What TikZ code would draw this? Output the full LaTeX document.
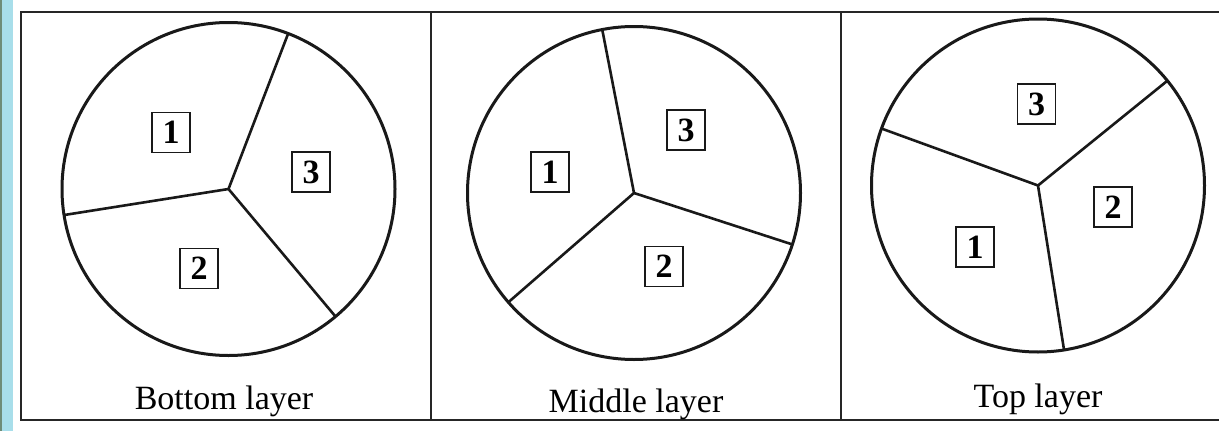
\documentclass[tikz,border=0pt]{standalone}
\usepackage{fontspec}
\setmainfont{Liberation Serif}
\definecolor{stripblue}{RGB}{168,222,234}
\definecolor{stripdark}{RGB}{110,140,120}
\begin{document}
\begin{tikzpicture}[x=1pt,y=-1pt,
  frameline/.style={draw=black!85,line width=2pt},
  ring/.style={circle,draw=black!90,line width=3pt,minimum size=333pt,inner sep=0pt,outer sep=0pt},
  spoke/.style={draw=black!90,line width=2.6pt},
  numbox/.style={draw=black!90,line width=1.8pt,minimum width=38pt,minimum height=40pt,inner sep=0pt,
    font=\fontsize{34}{34}\selectfont\bfseries},
  caption/.style={anchor=base,inner sep=0pt,font=\fontsize{34}{40}\selectfont}]
\useasboundingbox (0,0) rectangle (1219,431);
\fill[white] (0,0) rectangle (1219,431);
% textured strip at left
\fill[stripblue] (0,0) rectangle (13,431);
\fill[stripdark] (0,0) rectangle (2,431);
% frame
\draw[frameline] (1219,11.5) -- (20.5,11.5) -- (20.5,419.5) -- (1219,419.5);
\draw[frameline] (430.5,11.5) -- (430.5,419.5);
\draw[frameline] (840.5,11.5) -- (840.5,419.5);
% circle 1
\node[ring] (c1) at (228.5,189) {};
\coordinate (o1) at (228.5,189);
\draw[spoke] (o1) -- (c1.69.3);
\draw[spoke] (o1) -- (c1.189.6);
\draw[spoke] (o1) -- (c1.310);
\node[numbox] (b11) at (171,132.5) {1};
\node[numbox] (b13) at (311,172) {3};
\node[numbox] (b12) at (199,268.5) {2};
\node[caption] (t1) at (224,409) {Bottom layer};
% circle 2
\node[ring] (c2) at (634,193) {};
\coordinate (o2) at (634,193);
\draw[spoke] (o2) -- (c2.101.2);
\draw[spoke] (o2) -- (c2.342.1);
\draw[spoke] (o2) -- (c2.221.7);
\node[numbox] (b23) at (686,130) {3};
\node[numbox] (b21) at (550,172) {1};
\node[numbox] (b22) at (664,266.5) {2};
\node[caption] (t2) at (636,412) {Middle layer};
% circle 3
\node[ring] (c3) at (1038,185.5) {};
\coordinate (o3) at (1038,185.5);
\draw[spoke] (o3) -- (c3.39.6);
\draw[spoke] (o3) -- (c3.160.5);
\draw[spoke] (o3) -- (c3.279.7);
\node[numbox] (b33) at (1036.5,104) {3};
\node[numbox] (b32) at (1113,207) {2};
\node[numbox] (b31) at (975,247) {1};
\node[caption] (t3) at (1038,407) {Top layer};
\end{tikzpicture}
\end{document}
